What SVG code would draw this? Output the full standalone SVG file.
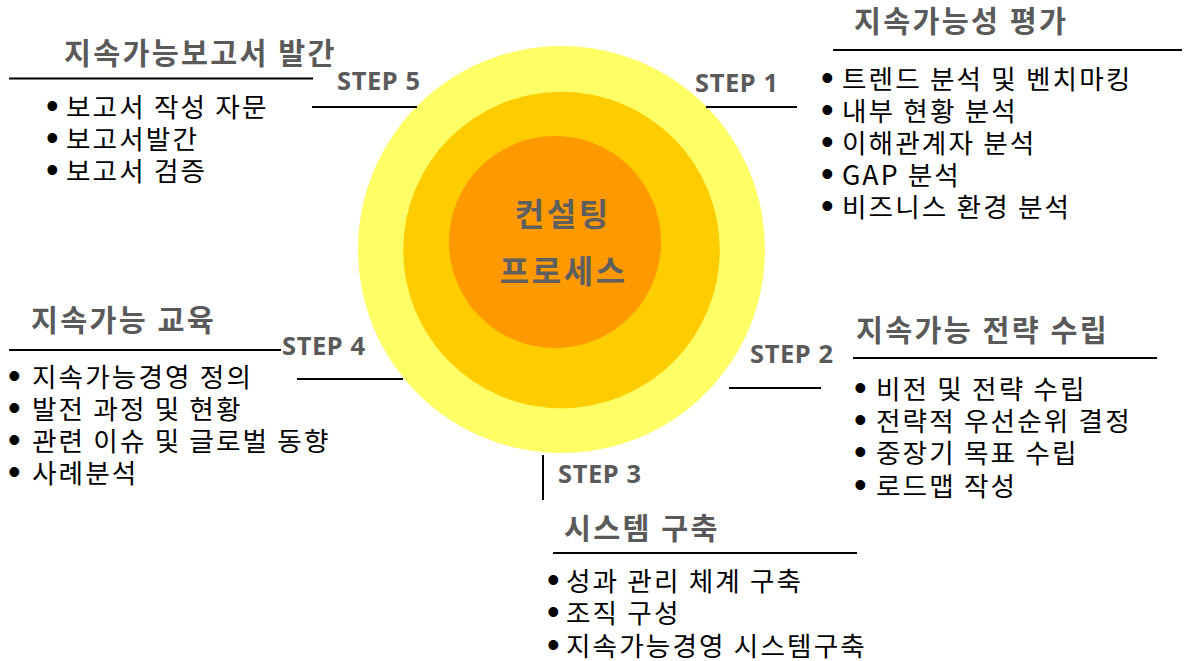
<svg xmlns="http://www.w3.org/2000/svg" width="1189" height="661" viewBox="0 0 1189 661">
<style>
.title{font-family:"Noto Sans CJK KR","Noto Sans",sans-serif;font-weight:bold;font-size:29.3px;fill:#5a5a5a;letter-spacing:2.3px;word-spacing:0.5px}
.item{font-family:"Noto Sans CJK KR","Noto Sans",sans-serif;font-size:26.67px;fill:#000;letter-spacing:2.1px}
.bul{font-family:"Liberation Sans",sans-serif;font-size:36px;letter-spacing:0}
.step{font-family:"Noto Sans",sans-serif;font-weight:bold;font-size:25.5px;fill:#5a5a5a;letter-spacing:0.6px}
.center{font-family:"Noto Sans CJK KR",sans-serif;font-weight:bold;font-size:32px;fill:#5f5f5f;text-anchor:middle;letter-spacing:2.6px}
.ln{stroke:#000;stroke-width:2;fill:none}
</style>
<rect width="1189" height="661" fill="#fff"/>
<g id="core">
<circle cx="561.5" cy="249.5" r="203.5" fill="#FFFF66"/>
<circle cx="561.5" cy="250" r="158.3" fill="#FFCC00"/>
<circle cx="555" cy="242" r="106" fill="#FF9900"/>
<text class="center" x="562.8" y="226">컨설팅</text>
<text class="center" x="563.8" y="283">프로세스</text>
</g>
<g id="connectors">
<line class="ln" x1="706" y1="107" x2="797" y2="107"/>
<line class="ln" x1="729" y1="388" x2="821" y2="388"/>
<line class="ln" x1="543" y1="455" x2="543" y2="500"/>
<line class="ln" x1="297" y1="379" x2="403" y2="379"/>
<line class="ln" x1="312" y1="107" x2="417" y2="107"/>
</g>
<g id="step1">
<text class="step" x="695" y="92">STEP 1</text>
<text class="title" x="854" y="31.5">지속가능성 평가</text>
<line class="ln" x1="833" y1="50" x2="1182" y2="50"/>
<text class="item" y="88.5"><tspan class="bul" x="821" dy="1">•</tspan><tspan x="842" dy="-1">트렌드 분석 및 벤치마킹</tspan></text>
<text class="item" y="120.5"><tspan class="bul" x="821" dy="1">•</tspan><tspan x="842" dy="-1">내부 현황 분석</tspan></text>
<text class="item" y="152.5"><tspan class="bul" x="821" dy="1">•</tspan><tspan x="842" dy="-1">이해관계자 분석</tspan></text>
<text class="item" y="184.5"><tspan class="bul" x="821" dy="1">•</tspan><tspan x="842" dy="-1">GAP 분석</tspan></text>
<text class="item" y="216.5"><tspan class="bul" x="821" dy="1">•</tspan><tspan x="842" dy="-1">비즈니스 환경 분석</tspan></text>
</g>
<g id="step2">
<text class="step" x="750" y="363">STEP 2</text>
<text class="title" x="856" y="340.5">지속가능 전략 수립</text>
<line class="ln" x1="853" y1="358" x2="1157" y2="358"/>
<text class="item" y="398.5"><tspan class="bul" x="854" dy="1">•</tspan><tspan x="876" dy="-1">비전 및 전략 수립</tspan></text>
<text class="item" y="431"><tspan class="bul" x="854" dy="1">•</tspan><tspan x="876" dy="-1">전략적 우선순위 결정</tspan></text>
<text class="item" y="463"><tspan class="bul" x="854" dy="1">•</tspan><tspan x="876" dy="-1">중장기 목표 수립</tspan></text>
<text class="item" y="495.5"><tspan class="bul" x="854" dy="1">•</tspan><tspan x="876" dy="-1">로드맵 작성</tspan></text>
</g>
<g id="step3">
<text class="step" x="558" y="483">STEP 3</text>
<text class="title" x="564" y="538.5">시스템 구축</text>
<line class="ln" x1="553" y1="553" x2="857" y2="553"/>
<text class="item" y="590.5"><tspan class="bul" x="547" dy="1">•</tspan><tspan x="566" dy="-1">성과 관리 체계 구축</tspan></text>
<text class="item" y="623"><tspan class="bul" x="547" dy="1">•</tspan><tspan x="566" dy="-1">조직 구성</tspan></text>
<text class="item" y="655.5"><tspan class="bul" x="547" dy="1">•</tspan><tspan x="566" dy="-1">지속가능경영 시스템구축</tspan></text>
</g>
<g id="step4">
<text class="step" x="282" y="355">STEP 4</text>
<text class="title" x="31" y="330.5">지속가능 교육</text>
<line class="ln" x1="9" y1="350" x2="281" y2="350"/>
<text class="item" y="386.5"><tspan class="bul" x="8" dy="1">•</tspan><tspan x="32" dy="-1">지속가능경영 정의</tspan></text>
<text class="item" y="418.5"><tspan class="bul" x="8" dy="1">•</tspan><tspan x="32" dy="-1">발전 과정 및 현황</tspan></text>
<text class="item" y="450.5"><tspan class="bul" x="8" dy="1">•</tspan><tspan x="32" dy="-1">관련 이슈 및 글로벌 동향</tspan></text>
<text class="item" y="482.5"><tspan class="bul" x="8" dy="1">•</tspan><tspan x="32" dy="-1">사례분석</tspan></text>
</g>
<g id="step5">
<text class="step" x="337" y="90">STEP 5</text>
<text class="title" x="64" y="63.5">지속가능보고서 발간</text>
<line class="ln" x1="9" y1="78.5" x2="313" y2="78.5"/>
<text class="item" y="116.5"><tspan class="bul" x="46" dy="1">•</tspan><tspan x="66" dy="-1">보고서 작성 자문</tspan></text>
<text class="item" y="148.5"><tspan class="bul" x="46" dy="1">•</tspan><tspan x="66" dy="-1">보고서발간</tspan></text>
<text class="item" y="180.5"><tspan class="bul" x="46" dy="1">•</tspan><tspan x="66" dy="-1">보고서 검증</tspan></text>
</g>
</svg>
